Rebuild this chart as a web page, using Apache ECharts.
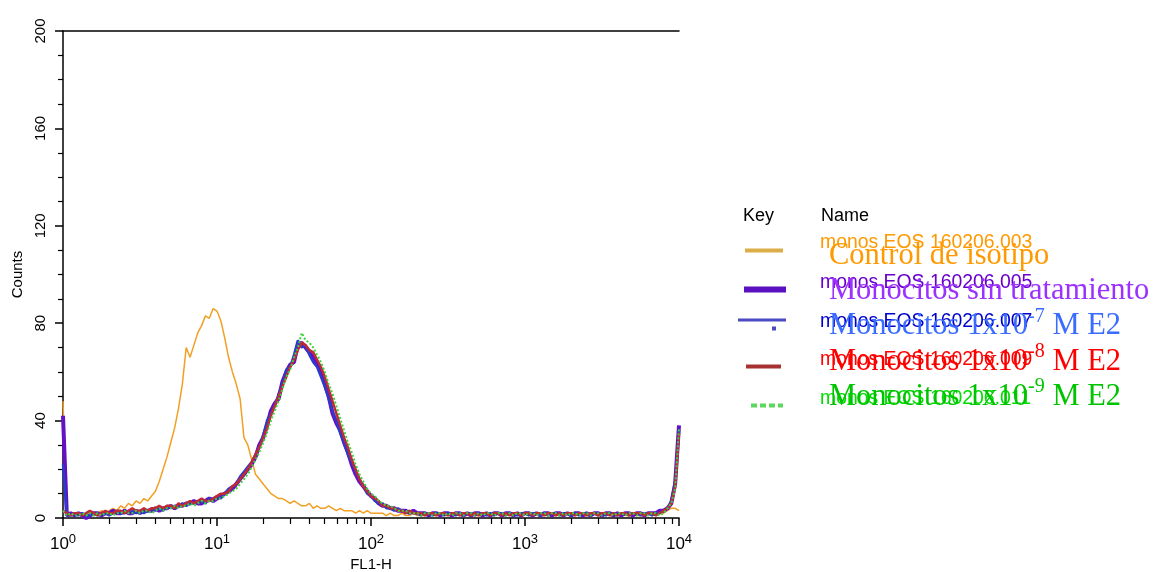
<!DOCTYPE html>
<html><head><meta charset="utf-8">
<script src="https://cdn.jsdelivr.net/npm/echarts@6/dist/echarts.min.js"></script>
<style>html,body{margin:0;padding:0;background:#fff}#c{width:1155px;height:572px}</style>
</head><body><div id="c"></div>
<script>
// Histogram channels: 40 bins per decade over 4 decades (10^0 .. 10^4)
const BINS_PER_DECADE = 40;
const xDecadeExponents = ['0', '1', '2', '3', '4'];
const yTickStep = 40;

const seriesNames = ['monos EOS 160206.003', 'monos EOS 160206.005', 'monos EOS 160206.007', 'monos EOS 160206.009', 'monos EOS 160206.011'];
const overlayMain = ['Control de isotipo', 'Monocitos sin tratamiento', 'Monocitos 1x10', 'Monocitos 1x10', 'Monocitos 1x10'];
const overlaySup = ['', '', '-7', '-8', '-9'];
const overlayTail = ['', '', ' M E2', ' M E2', ' M E2'];
const legendHeaders = ['Key', 'Name'];

const isotypeCounts = [
48,1,2,1,2,1,2,2,1,2,
3,2,3,4,3,5,4,6,5,7,
6,8,7,9,11,15,20,25,31,37,
45,55,70,66,71,76,79,83,82,86,
85,81,74,66,60,55,49,33,30,24,
18,16,14,12,10,9,8,8,7,6,
7,6,5,5,6,4,5,4,4,5,
4,3,4,3,3,3,2,3,2,3,
2,2,2,2,1,2,1,1,2,1,
1,2,1,1,1,2,1,1,2,1,
1,1,2,1,1,1,2,1,1,2,
1,1,1,2,1,1,2,1,1,1,
2,1,1,2,1,1,1,2,1,1,
1,2,1,1,2,1,1,1,2,1,
1,2,1,1,1,2,1,1,2,1,
1,1,2,1,2,2,2,3,4,4,3];

const untreatedCounts = [
42,1,2,1,2,1,0,1,2,2,
1,2,2,3,2,2,3,2,2,3,
2,3,3,3,4,3,4,4,5,4,
5,5,6,6,7,6,6,7,8,7,
8,9,10,11,12,14,16,18,20,22,
25,30,33,38,44,47,49,56,60,63,
64,71,72,70,68,66,63,60,55,50,
43,39,36,31,27,22,18,15,13,11,
9,8,6,5,5,4,4,3,3,3,
2,3,2,2,2,1,2,2,1,2,
2,1,2,2,1,2,1,2,2,1,
2,1,2,2,1,2,2,1,2,1,
2,2,1,2,1,2,2,1,2,2,
1,2,1,2,2,1,2,1,2,2,
1,2,2,1,2,1,2,2,1,2,
2,1,2,2,2,3,3,4,6,14,38];

const e2m7Counts = [
22,1,1,2,1,2,1,1,2,1,
2,2,1,2,3,2,2,3,3,2,
3,2,3,4,3,4,3,5,4,5,
5,6,5,6,6,7,7,6,8,8,
9,8,10,12,13,14,17,19,21,23,
26,29,34,40,43,46,51,55,61,62,
67,73,70,71,67,64,62,58,54,49,
44,40,35,31,26,23,19,16,13,10,
9,7,6,6,4,4,3,4,3,2,
3,2,2,1,2,2,1,2,2,1,
2,2,1,2,1,2,2,1,2,2,
1,2,1,2,2,1,2,2,1,2,
2,1,2,2,1,2,1,2,2,1,
2,2,1,2,1,2,2,1,2,1,
2,1,2,2,1,2,2,1,2,2,
1,2,2,1,2,2,3,4,7,15,36];

const e2m8Counts = [
3,2,1,2,2,1,2,3,2,1,
2,3,2,2,3,3,2,3,4,3,
3,4,3,4,4,5,4,5,5,4,
6,5,6,7,6,7,8,7,7,8,
9,10,10,11,13,14,16,18,20,23,
26,29,33,37,42,46,50,54,58,62,
65,69,72,71,69,68,65,62,58,53,
48,43,38,33,29,24,20,16,13,11,
9,8,7,5,5,4,4,3,3,2,
3,2,2,2,1,2,2,1,2,2,
1,2,2,1,2,2,1,2,1,2,
2,1,2,2,1,2,1,2,2,1,
2,2,1,2,2,1,2,2,1,2,
1,2,2,1,2,2,1,2,2,1,
2,2,1,2,1,2,2,1,2,2,
2,1,2,2,1,2,3,4,6,13,35];

const e2m9Counts = [
3,1,2,1,1,2,1,2,1,2,
1,2,2,1,2,2,3,2,2,3,
2,3,3,2,3,4,3,4,4,5,
4,5,5,6,5,6,7,6,7,7,
8,8,9,10,11,12,14,16,18,21,
24,27,31,35,40,44,48,53,58,61,
66,70,76,73,72,70,67,64,60,55,
51,46,41,36,31,27,22,18,15,12,
10,9,7,6,5,5,4,3,3,3,
2,2,2,1,2,2,1,2,2,1,
2,1,2,2,1,2,2,1,2,1,
2,2,1,2,2,1,2,1,2,2,
1,2,2,1,2,2,1,2,2,1,
2,1,2,2,1,2,2,1,2,2,
1,2,2,1,2,2,1,2,2,1,
2,2,1,2,2,1,2,4,6,12,37];

const allCounts = [isotypeCounts, untreatedCounts, e2m7Counts, e2m8Counts, e2m9Counts];

// styles
const lineColors = ['#f2a024', '#6410c4', '#2a3ccc', '#c02a34', '#3cd23c'];
const lineWidths = [1.5, 4, 2.5, 2.5, 2];
const lineTypes = ['solid', 'solid', 'solid', 'solid', 'dotted'];
const nameColors = ['#ff9900', '#6a00cc', '#0000cc', '#ff0000', '#00dd00'];
const overlayColors = ['#ff9900', '#9b30ff', '#3a6cff', '#ff0000', '#00c400'];
const keyColors = ['#dcae48', '#5a10c0', '#4a4ac4', '#a83232', '#5cd85c'];
const keyIcons = [
  'rect',
  'rect',
  'path://M0,0h48v3h-48zM34,8h4v4h-4z',
  'rect',
  'path://M0,0h6v4h-6zM9,0h6v4h-6zM18,0h6v4h-6zM27,0h5v4h-5z'
];
// legend key geometry: [left, iconWidth, iconHeight, iconCenterY, textCenterY]
const keyGeom = [
  [740, 38, 4, 246, 238],
  [739, 42, 6, 285, 278],
  [733, 48, 12, 320, 317],
  [741, 35, 4, 362, 355],
  [746, 32, 4, 401, 394]
];

const minorTickValues = [];
for (let d = 0; d < 4; d++) for (let k = 2; k <= 9; k++) minorTickValues.push(d + Math.log10(k));

const toData = arr => arr.map((v, i) => [i / BINS_PER_DECADE, v]);

const black = '#000';
const sans = 'Liberation Sans';
const serif = 'Liberation Serif';
const NAME_FONT = 19.4, NAME_LH = 20, TEXT_LEFT = 815;

const series = allCounts.map((arr, s) => ({
  name: seriesNames[s], type: 'line', data: toData(arr), xAxisIndex: 0, yAxisIndex: 0,
  showSymbol: false, symbol: 'none', animation: false, z: 2 + s,
  lineStyle: { color: lineColors[s], width: lineWidths[s], type: lineTypes[s] },
  itemStyle: { color: lineColors[s] }
}));

const legends = seriesNames.map((n, i) => {
  const [left, w, h, cy, ty] = keyGeom[i];
  const pb = 2 * (cy - ty);
  const boxH = NAME_LH + pb;
  const top = boxH > h ? cy - boxH / 2 : cy - h / 2;
  return {
    orient: 'vertical', left: left, top: top, itemWidth: w, itemHeight: h, itemGap: 0,
    selectedMode: false, icon: keyIcons[i],
    data: [{ name: n, itemStyle: { color: keyColors[i] } }],
    formatter: name => '{a|' + name + '}',
    textStyle: {
      rich: {
        a: {
          fontSize: NAME_FONT, lineHeight: NAME_LH, fontFamily: sans, color: nameColors[i],
          padding: [0, 0, pb, TEXT_LEFT - left - w - 5]
        }
      }
    }
  };
});

const graphic = [];
graphic.push({ type: 'text', left: 743, top: 207, z: 10, style: { text: legendHeaders[0], font: '18px ' + sans, fill: black } });
graphic.push({ type: 'text', left: 821, top: 207, z: 10, style: { text: legendHeaders[1], font: '18px ' + sans, fill: black } });
overlayMain.forEach((t, i) => {
  let txt = '{m|' + t + '}';
  if (overlaySup[i]) txt += '{s|' + overlaySup[i] + '}{m|' + overlayTail[i] + '}';
  graphic.push({
    type: 'text', x: 829, y: 256 + i * 35.2, z: 20,
    style: {
      text: txt, verticalAlign: 'middle', align: 'left',
      rich: {
        m: { fontSize: 30.5, lineHeight: 40, fontFamily: serif, fill: overlayColors[i], color: overlayColors[i] },
        s: { fontSize: 20, lineHeight: 20, fontFamily: serif, verticalAlign: 'top', fill: overlayColors[i], color: overlayColors[i] }
      }
    }
  });
});

const option = {
  backgroundColor: '#fff',
  animation: false,
  grid: { left: 63, top: 31, width: 616, height: 487, containLabel: false, outerBoundsMode: 'none' },
  xAxis: [
    {
      type: 'value', min: 0, max: 4, interval: 1, position: 'bottom',
      axisLine: { show: true, onZero: false, lineStyle: { color: black, width: 1.5 } },
      axisTick: { show: true, length: 8, lineStyle: { color: black, width: 1.5 } },
      splitLine: { show: false },
      axisLabel: {
        margin: 15,
        formatter: v => '{b|10}{s|' + xDecadeExponents[Math.round(v)] + '}',
        rich: {
          b: { fontSize: 17, lineHeight: 22, fontFamily: sans, color: black },
          s: { fontSize: 13, lineHeight: 13, fontFamily: sans, color: black, verticalAlign: 'top' }
        }
      },
      name: 'FL1-H', nameLocation: 'middle', nameGap: 38,
      nameTextStyle: { fontSize: 15, fontFamily: sans, color: black }
    },
    {
      type: 'value', min: 0, max: 4, position: 'bottom',
      axisLine: { show: false, onZero: false },
      axisTick: { show: true, length: 6, customValues: minorTickValues, lineStyle: { color: black, width: 1.2 } },
      axisLabel: { show: false }, splitLine: { show: false }
    },
    {
      type: 'value', min: 0, max: 4, position: 'top',
      axisLine: { show: true, onZero: false, lineStyle: { color: black, width: 1.5 } },
      axisTick: { show: false }, axisLabel: { show: false }, splitLine: { show: false }
    }
  ],
  yAxis: {
    type: 'value', min: 0, max: 200, interval: yTickStep,
    axisLine: { show: true, onZero: false, lineStyle: { color: black, width: 1.5 } },
    axisTick: { show: true, length: 8, lineStyle: { color: black, width: 1.5 } },
    minorTick: { show: true, splitNumber: 4, length: 5, lineStyle: { color: black, width: 1.2 } },
    splitLine: { show: false }, minorSplitLine: { show: false },
    axisLabel: { rotate: 90, margin: 15, fontSize: 15, fontFamily: sans, color: black },
    name: 'Counts', nameLocation: 'middle', nameRotate: 90, nameGap: 37,
    nameTextStyle: { fontSize: 15, fontFamily: sans, color: black }
  },
  legend: legends,
  graphic: graphic,
  series: series
};

const chart = echarts.init(document.getElementById('c'), null, { renderer: 'canvas' });
chart.setOption(option);
</script>
</body></html>
